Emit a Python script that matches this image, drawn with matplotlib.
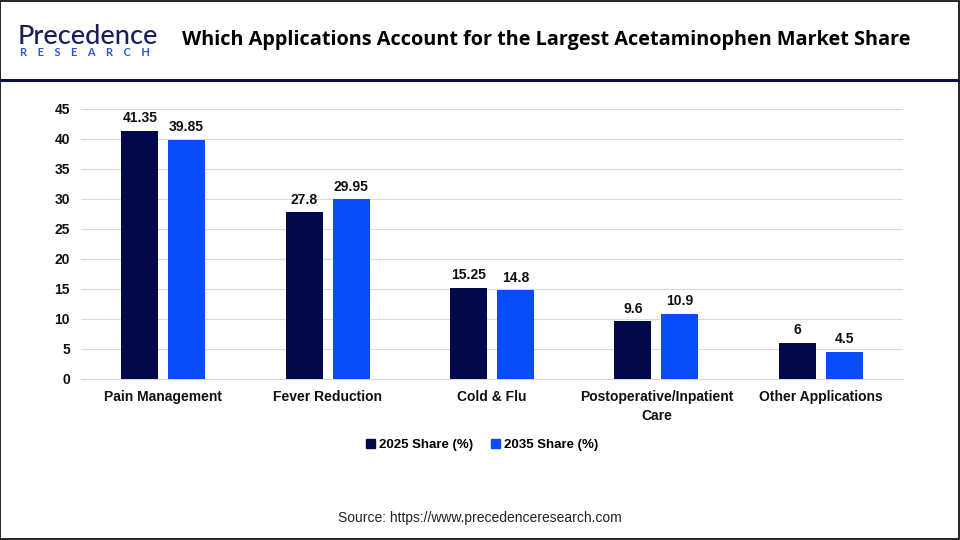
import matplotlib
matplotlib.use("Agg")
import matplotlib.pyplot as plt
import numpy as np
from matplotlib.lines import Line2D
from matplotlib.patches import Rectangle

categories = ["Pain Management", "Fever Reduction", "Cold & Flu", "Postoperative/Inpatient\nCare", "Other Applications"]
share_2025 = [41.35, 27.8, 15.25, 9.6, 6]
share_2035 = [39.85, 29.95, 14.8, 10.9, 4.5]
labels_2025 = ["41.35", "27.8", "15.25", "9.6", "6"]
labels_2035 = ["39.85", "29.95", "14.8", "10.9", "4.5"]
series_names = ["2025 Share (%)", "2035 Share (%)"]
yticks = [0, 5, 10, 15, 20, 25, 30, 35, 40, 45]

c_dark = "#03084A"
c_blue = "#0A4CF7"

fig = plt.figure(figsize=(9.6, 5.4), dpi=100)
W, H = 960, 540
ax = fig.add_axes([81 / W, 1 - 379 / H, (903 - 81) / W, (379 - 109) / H])

x = np.arange(len(categories))
bw = 0.225
off = 0.1425
b1 = ax.bar(x - off, share_2025, bw, color=c_dark, zorder=3)
b2 = ax.bar(x + off, share_2035, bw, color=c_blue, zorder=3)
for rects, labs in ((b1, labels_2025), (b2, labels_2035)):
    for r, l in zip(rects, labs):
        ax.annotate(l, (r.get_x() + r.get_width() / 2, r.get_height()), xytext=(0, 4),
                    textcoords="offset points", ha="center", va="bottom",
                    fontsize=10, fontweight="bold", family="Liberation Sans", color="#111111")

ax.set_xlim(-0.5, len(categories) - 0.5)
ax.set_ylim(0, 45)
ax.set_yticks(yticks)
ax.yaxis.grid(True, color="#d9d9d9", linewidth=0.8, zorder=0)
ax.set_xticks(x)
ax.set_xticklabels(categories, linespacing=1.45)
for lab in ax.get_xticklabels() + ax.get_yticklabels():
    lab.set_fontweight("bold")
    lab.set_fontsize(10)
    lab.set_family("Liberation Sans")
    lab.set_color("#111111")
ax.tick_params(axis="both", length=0)
ax.tick_params(axis="x", pad=8)
ax.tick_params(axis="y", pad=8)
for s in ["top", "right", "left"]:
    ax.spines[s].set_visible(False)
ax.spines["bottom"].set_color("#d9d9d9")

handles = [Rectangle((0, 0), 1, 1, color=c_dark), Rectangle((0, 0), 1, 1, color=c_blue)]
leg = fig.legend(handles, series_names, loc="center", bbox_to_anchor=(482 / W, 1 - 445 / H),
                 ncol=2, frameon=False, prop={"family": "Liberation Sans", "weight": "bold", "size": 9.5},
                 handlelength=0.7, handleheight=0.7, handletextpad=0.3, columnspacing=1.3)

fig.text(480 / W, 1 - 518 / H, "Source: https://www.precedenceresearch.com", ha="center", va="center",
         fontsize=10, family="Liberation Sans", color="#222222")

fig.text(546 / W, 1 - 40 / H, "Which Applications Account for the Largest Acetaminophen Market Share",
         ha="center", va="center", fontsize=14.3, fontweight="bold", family="Open Sans", color="#000000")

# logo
fig.text(18 / W, 1 - 36 / H, "Precedence", ha="left", va="center", fontsize=19.5, family="Lato",
         color="#1a1f5c", fontweight="medium")
fig.text(20 / W, 1 - 53 / H, "R    E    S    E    A    R    C    H", ha="left", va="center", fontsize=7.9, family="Lato",
         color="#2a56d6", fontweight="bold")

# header separator & border
fig.add_artist(Line2D([0, 1], [1 - 80 / H, 1 - 80 / H], color="#0b0f45", linewidth=2.2, transform=fig.transFigure))
fig.add_artist(Rectangle((0.0005, 0.001), 0.998, 0.997, fill=False, edgecolor="black", linewidth=1.2,
                         transform=fig.transFigure))

fig.savefig("out.png", dpi=100)
